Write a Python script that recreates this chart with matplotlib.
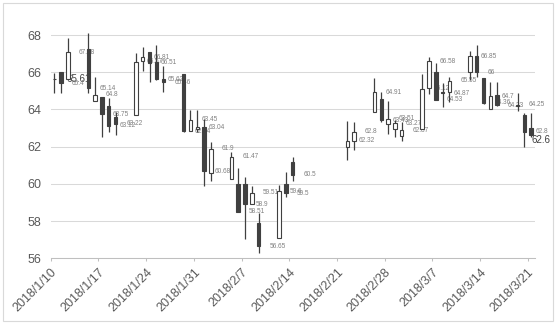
import matplotlib
matplotlib.use("Agg")
import matplotlib.pyplot as plt
from matplotlib.patches import Rectangle
import numpy as np
import pandas as pd

plt.rcParams['font.family'] = ['Liberation Sans', 'DejaVu Sans']

# daily OHLC
dates = ["2018-01-10", "2018-01-11", "2018-01-12", "2018-01-15", "2018-01-16", "2018-01-17",
         "2018-01-18", "2018-01-19", "2018-01-22", "2018-01-23", "2018-01-24", "2018-01-25",
         "2018-01-26", "2018-01-29", "2018-01-30", "2018-01-31", "2018-02-01", "2018-02-02",
         "2018-02-05", "2018-02-06", "2018-02-07", "2018-02-08", "2018-02-09", "2018-02-12",
         "2018-02-13", "2018-02-14", "2018-02-22", "2018-02-23", "2018-02-26", "2018-02-27",
         "2018-02-28", "2018-03-01", "2018-03-02", "2018-03-05", "2018-03-06", "2018-03-07",
         "2018-03-08", "2018-03-09", "2018-03-12", "2018-03-13", "2018-03-14", "2018-03-15",
         "2018-03-16", "2018-03-19", "2018-03-20", "2018-03-21"]
opens = [65.66, 66.01, 65.65, 67.23, 64.47, 64.67, 64.18, 63.61, 63.70, 66.62, 67.08, 66.53,
         65.63, 65.89, 62.85, 62.95, 63.05, 60.57, 60.27, 59.99, 59.99, 58.90, 57.88, 57.07,
         59.97, 61.19, 61.96, 62.32, 63.88, 64.54, 63.20, 62.95, 62.57, 62.93, 65.13, 65.99,
         64.90, 64.95, 66.03, 66.87, 65.67, 64.00, 64.77, 64.20, 63.70, 62.98]
highs = [65.94, 66.01, 67.82, 68.09, 65.76, 64.67, 64.60, 63.84, 67.02, 67.37, 67.08, 67.46,
         66.33, 65.89, 63.97, 63.97, 63.47, 62.26, 61.73, 60.87, 60.38, 59.88, 58.41, 59.94,
         60.63, 61.46, 63.38, 63.34, 65.67, 64.92, 64.47, 63.43, 63.34, 65.88, 66.80, 66.48,
         65.40, 65.76, 67.16, 67.48, 65.70, 65.46, 65.46, 64.90, 63.79, 63.79]
lows = [64.87, 64.87, 65.65, 64.87, 64.46, 62.50, 62.80, 62.62, 63.70, 66.08, 65.49, 65.58,
        64.95, 62.80, 62.84, 62.80, 59.88, 60.15, 60.27, 58.47, 57.03, 58.90, 56.30, 57.07,
        59.27, 60.17, 61.28, 61.82, 63.88, 63.34, 62.68, 62.50, 62.32, 62.93, 64.83, 64.50,
        64.11, 64.41, 65.58, 65.76, 64.30, 64.00, 64.18, 63.93, 61.96, 62.53]
closes = [65.61, 65.40, 67.08, 65.14, 64.80, 63.75, 63.12, 63.22, 66.57, 66.81, 66.51, 65.62,
          65.46, 62.84, 63.45, 63.04, 60.68, 61.90, 61.47, 58.51, 58.90, 59.51, 56.65, 59.60,
          59.50, 60.50, 62.32, 62.80, 64.91, 63.43, 63.51, 63.27, 62.87, 65.12, 66.58, 64.53,
          64.87, 65.55, 66.85, 66.00, 64.36, 64.70, 64.23, 64.25, 62.80, 62.60]

tick_labels = ["2018/1/10", "2018/1/17", "2018/1/24", "2018/1/31", "2018/2/7", "2018/2/14",
               "2018/2/21", "2018/2/28", "2018/3/7", "2018/3/14", "2018/3/21"]

start = pd.Timestamp("2018-01-10")
day = (pd.to_datetime(dates) - start).days.values
x = day + 0.5
o = np.array(opens)
h = np.array(highs)
l = np.array(lows)
c = np.array(closes)

dark = '#404040'
fig = plt.figure(figsize=(5.57, 3.24), dpi=100)
fig.patches.append(Rectangle((0.005, 0.008), 0.988, 0.984, transform=fig.transFigure,
                             fill=False, edgecolor='#d9d9d9', linewidth=0.8))
ax = fig.add_axes([0.0912, 0.2028, 0.8686, 0.7466])

ax.vlines(x, l, h, color=dark, linewidth=0.9, zorder=3)
up = c >= o
body = np.where(np.abs(c - o) < 0.04, 0.04, c - o)
ax.bar(x[up], body[up], bottom=o[up], width=0.5, color='white', edgecolor=dark,
       linewidth=0.8, zorder=4)
ax.bar(x[~up], body[~up], bottom=o[~up], width=0.5, color=dark, edgecolor=dark,
       linewidth=0.8, zorder=4)

# close labels
for i in range(len(x)):
    txt = f"{c[i]:g}"
    if i == 0:
        ax.annotate(txt, (x[i], c[i]), xytext=(9, 0), textcoords='offset points',
                    ha='left', va='center', fontsize=7, color=dark, zorder=2)
    elif i == len(x) - 1:
        ax.annotate(txt, (x[i], c[i]), xytext=(0, -3), textcoords='offset points',
                    ha='left', va='center', fontsize=7, color=dark, zorder=2)
    else:
        ax.annotate(txt, (x[i], c[i]), xytext=(7.9, 0), textcoords='offset points',
                    ha='left', va='center', fontsize=4.7, color='#808080', zorder=2)

ax.set_xlim(0, 71)
ax.set_ylim(56, 69)
ax.set_yticks(np.arange(56, 69, 2))
ax.set_xticks(np.arange(0, 71, 7))
ax.set_xticklabels(tick_labels, rotation=45, ha='right', va='top', rotation_mode='anchor')
ax.tick_params(axis='x', colors='#bfbfbf', length=2.5, width=0.75, pad=3,
               labelcolor='#595959', labelsize=9)
ax.tick_params(axis='y', length=0, pad=7, labelcolor='#595959', labelsize=9)
ax.yaxis.grid(True, color='#d9d9d9', linewidth=0.75)
ax.set_axisbelow(True)
for s in ['left', 'right', 'top']:
    ax.spines[s].set_visible(False)
ax.spines['bottom'].set_color('#bfbfbf')
ax.spines['bottom'].set_linewidth(0.75)

fig.savefig("out.png", dpi=100)
